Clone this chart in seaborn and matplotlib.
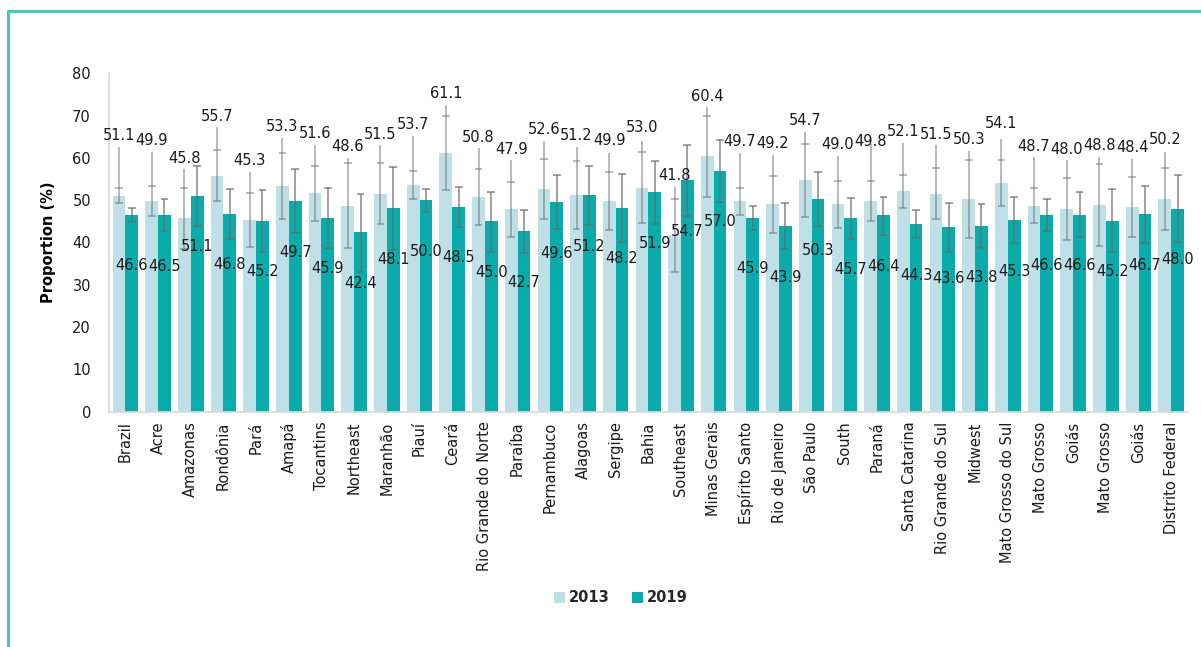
import matplotlib
matplotlib.use("Agg")
import matplotlib.pyplot as plt
import seaborn as sns
import pandas as pd
import numpy as np
from matplotlib.patches import Patch
from matplotlib.lines import Line2D

categories = ["Brazil", "Acre", "Amazonas", "Rondônia", "Pará", "Amapá", "Tocantins",
              "Northeast", "Maranhão", "Piauí", "Ceará", "Rio Grande do Norte", "Paraíba",
              "Pernambuco", "Alagoas", "Sergipe", "Bahia", "Southeast", "Minas Gerais",
              "Espírito Santo", "Rio de Janeiro", "São Paulo", "South", "Paraná",
              "Santa Catarina", "Rio Grande do Sul", "Midwest", "Mato Grosso do Sul",
              "Mato Grosso", "Goiás", "Mato Grosso", "Goiás", "Distrito Federal"]

v2013 = [51.1, 49.9, 45.8, 55.7, 45.3, 53.3, 51.6, 48.6, 51.5, 53.7, 61.1, 50.8, 47.9,
         52.6, 51.2, 49.9, 53.0, 41.8, 60.4, 49.7, 49.2, 54.7, 49.0, 49.8, 52.1, 51.5,
         50.3, 54.1, 48.7, 48.0, 48.8, 48.4, 50.2]
v2019 = [46.6, 46.5, 51.1, 46.8, 45.2, 49.7, 45.9, 42.4, 48.1, 50.0, 48.5, 45.0, 42.7,
         49.6, 51.2, 48.2, 51.9, 54.7, 57.0, 45.9, 43.9, 50.3, 45.7, 46.4, 44.3, 43.6,
         43.8, 45.3, 46.6, 46.6, 45.2, 46.7, 48.0]

# 2013 error bars: lower cap, upper cap, end of line
low2013 = [49.3, 46.3, 38.4, 49.8, 38.9, 45.5, 45.2, 38.6, 44.3, 50.4, 52.3, 44.1, 41.4,
           45.5, 43.1, 43.0, 44.7, 33.1, 50.8, 46.4, 42.3, 46.0, 43.4, 45.1, 48.2, 45.5,
           41.0, 48.7, 44.5, 40.6, 39.2, 41.2, 43.0]
cap2013 = [52.8, 53.4, 53.0, 61.8, 51.6, 61.2, 58.1, 58.7, 58.7, 57.0, 69.9, 57.3, 54.2,
           59.8, 59.3, 56.7, 61.5, 50.3, 69.9, 52.8, 55.8, 63.4, 54.6, 54.5, 56.0, 57.5,
           59.5, 59.5, 52.8, 55.3, 58.5, 55.6, 57.5]
top2013 = [62.6, 61.3, 57.3, 67.4, 56.7, 64.6, 63.0, 59.9, 63.0, 65.2, 72.5, 62.3, 59.5,
           64.1, 62.6, 61.2, 64.1, 53.2, 72.1, 61.2, 60.7, 66.2, 60.5, 63.4, 63.6, 63.0,
           61.7, 64.4, 60.3, 59.5, 60.3, 59.7, 61.5]
# 2019 error bars
low2019 = [44.9, 42.7, 43.9, 40.8, 37.7, 42.2, 38.6, 33.1, 38.2, 47.1, 43.6, 37.7, 37.6,
           43.1, 44.1, 40.0, 44.4, 46.3, 49.6, 43.0, 38.4, 44.0, 40.8, 41.8, 41.1, 37.8,
           38.7, 39.8, 42.8, 41.2, 37.7, 39.8, 40.0]
high2019 = [48.2, 50.3, 58.2, 52.7, 52.5, 57.3, 53.0, 51.5, 57.8, 52.6, 53.2, 52.0, 47.7,
            56.0, 58.2, 56.1, 59.3, 63.0, 64.2, 48.7, 49.3, 56.6, 50.6, 50.8, 47.7, 49.3,
            49.0, 50.7, 50.4, 52.0, 52.6, 53.4, 56.0]

years = ["2013", "2019"]
colors = {"2013": "#bfe0e6", "2019": "#0aabab"}

n = len(categories)
df = pd.DataFrame({
    "idx": list(range(n)) * 2,
    "year": ["2013"] * n + ["2019"] * n,
    "value": v2013 + v2019,
})

sns.set_style("white")
plt.rcParams["font.family"] = ["DejaVu Sans"]

fig = plt.figure(figsize=(12.01, 6.47), dpi=100)
ax = fig.add_axes([0.0908, 0.3637, 0.898, 0.523])

sns.barplot(data=df, x="idx", y="value", hue="year", hue_order=years,
            palette=colors, width=0.78, errorbar=None, ax=ax, legend=False,
            saturation=1, linewidth=0)

c13, c19 = ax.containers[0], ax.containers[1]
x13 = np.array([p.get_x() + p.get_width() / 2 for p in c13])
x19 = np.array([p.get_x() + p.get_width() / 2 for p in c19])

ecol = "#6a6a6a"
ealpha = 0.6
cw = 0.12
# 2013 error lines
ax.vlines(x13, low2013, top2013, color=ecol, alpha=ealpha, lw=1.1, zorder=3)
ax.hlines(low2013, x13 - cw, x13 + cw, color=ecol, alpha=ealpha, lw=1.1, zorder=3)
ax.hlines(cap2013, x13 - cw, x13 + cw, color=ecol, alpha=ealpha, lw=1.1, zorder=3)
# 2019 error lines
ax.vlines(x19, low2019, high2019, color=ecol, alpha=0.8, lw=1.1, zorder=3)
ax.hlines(low2019, x19 - cw, x19 + cw, color=ecol, alpha=0.8, lw=1.1, zorder=3)
ax.hlines(high2019, x19 - cw, x19 + cw, color=ecol, alpha=0.8, lw=1.1, zorder=3)

# data labels
for x, v in zip(x13, v2013):
    ax.text(x, v + 14.1, f"{v:.1f}", ha="center", va="center", fontsize=10.5,
            color="#1a1a1a", zorder=5)
for x, v in zip(x19, v2019):
    ax.text(x, v - 12.1, f"{v:.1f}", ha="center", va="center", fontsize=10.5,
            color="#1a1a1a", zorder=5)

ax.set_ylim(0, 80)
ax.set_xlim(-0.5, n - 0.5)
ax.set_yticks(range(0, 81, 10))
ax.set_xticks(range(n))
ax.set_xticklabels(categories, rotation=90, fontsize=10.5, color="#1a1a1a")
ax.tick_params(axis="y", length=0, pad=13, labelsize=10.5, labelcolor="#1a1a1a")
ax.tick_params(axis="x", length=0, pad=7)
ax.set_xlabel("")
ax.set_ylabel("Proportion (%)", fontsize=10.5, fontweight="bold", labelpad=12,
              color="#000000")

for s in ["top", "right"]:
    ax.spines[s].set_visible(False)
for s in ["left", "bottom"]:
    ax.spines[s].set_color("#d9d9d9")
    ax.spines[s].set_linewidth(1.2)

handles = [Patch(facecolor=colors[y], edgecolor="none") for y in years]
leg = fig.legend(handles, years, loc="center", bbox_to_anchor=(0.517, 0.076), ncol=2,
                 frameon=False, handlelength=0.75, handleheight=0.75,
                 handletextpad=0.3, columnspacing=1.5,
                 prop={"weight": "bold", "size": 10.5})

# teal frame lines
fig.add_artist(Line2D([8 / 1201, 1.0], [1 - 11 / 647, 1 - 11 / 647],
                      transform=fig.transFigure, color="#47c3c0", lw=2.2))
fig.add_artist(Line2D([8 / 1201, 8 / 1201], [0, 1 - 11 / 647],
                      transform=fig.transFigure, color="#47c3c0", lw=2.2))

fig.savefig("out.png", dpi=100)
